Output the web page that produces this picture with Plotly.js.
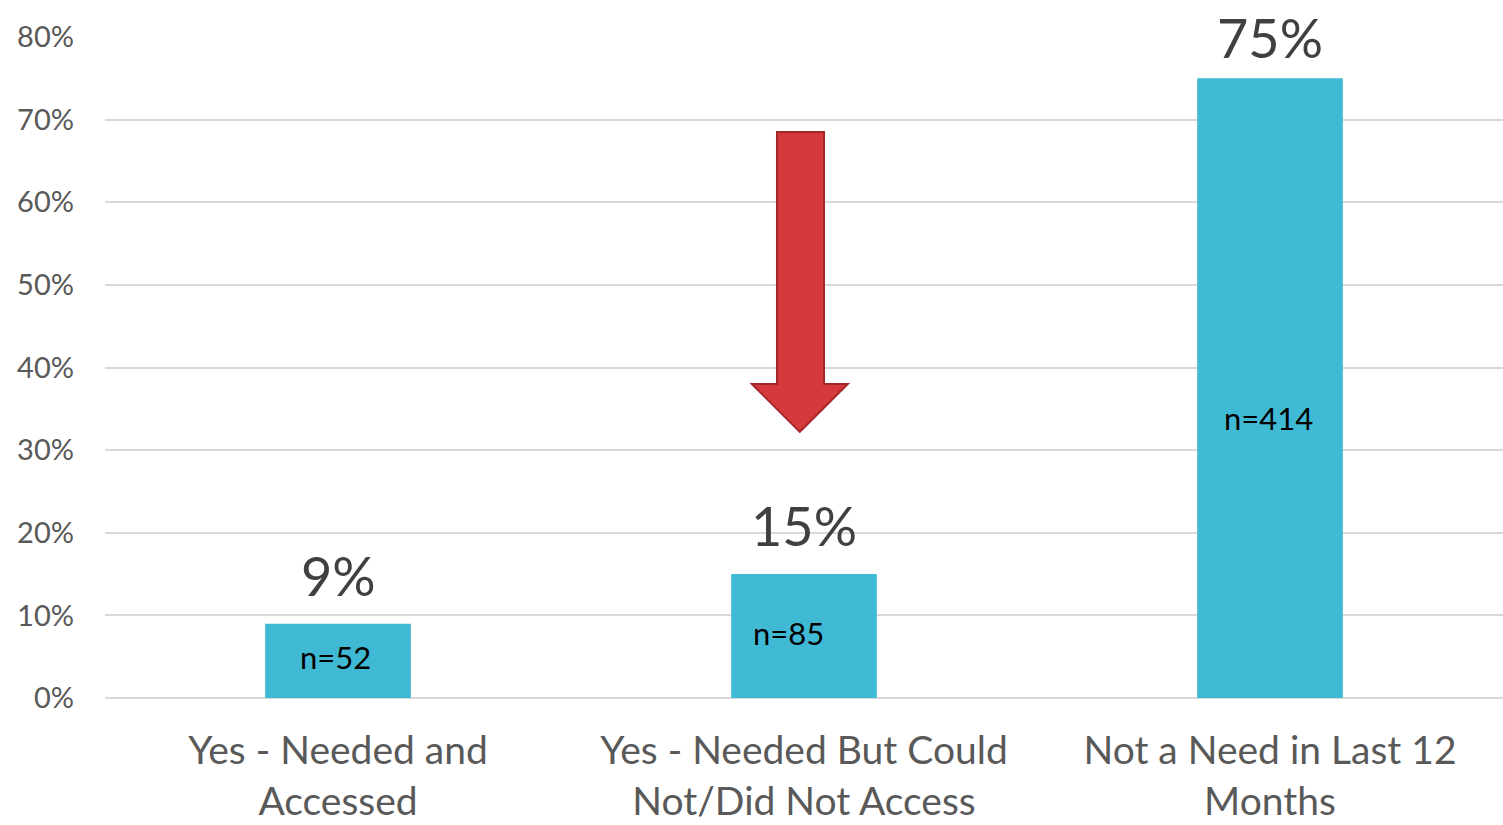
<!DOCTYPE html>
<html>
<head>
<meta charset="utf-8">
<script src="https://cdn.plot.ly/plotly-3.0.1.min.js"></script>
<style>html,body{margin:0;padding:0;background:#fff;}#chart{width:1503px;height:825px;}</style>
</head>
<body>
<div id="chart"></div>
<script>
// ---- data ----
var categories = ["Yes - Needed and<br>Accessed", "Yes - Needed But Could<br>Not/Did Not Access", "Not a Need in Last 12<br>Months"];
var percents = [9, 15, 75];
var valueLabels = ["9%", "15%", "75%"];
var nLabels = ["n=52", "n=85", "n=414"];
var yTickVals = [0, 10, 20, 30, 40, 50, 60, 70, 80];
var yTickText = ["0%", "10%", "20%", "30%", "40%", "50%", "60%", "70%", "80%"];

// ---- layout helpers (positions, not data) ----
var nLabelY = [5.0, 7.9, 33.9];
var nLabelXShift = [-3, -16, -2];
var valueLabelYShift = [14, 14, 6];

var FONT = "Lato, 'Open Sans', sans-serif";

var trace = {
  type: "bar",
  x: categories,
  y: percents,
  marker: {color: "#40b9d4"},
  width: 0.3126,
  hoverinfo: "skip"
};

var annotations = [];
for (var i = 0; i < categories.length; i++) {
  annotations.push({
    x: categories[i], y: percents[i], xref: "x", yref: "y",
    text: valueLabels[i], showarrow: false,
    xanchor: "center", yanchor: "bottom", yshift: valueLabelYShift[i],
    font: {family: FONT, size: 54, color: "#404040"}
  });
  annotations.push({
    x: categories[i], y: nLabelY[i], xref: "x", yref: "y",
    text: nLabels[i], showarrow: false,
    xanchor: "center", yanchor: "middle", xshift: nLabelXShift[i],
    font: {family: FONT, size: 31, color: "#000000"}
  });
}

// Red down arrow (annotation graphic) over the middle category.
// x in paper fraction of plot width, y in axis units
function cx(idx) { return (idx + 0.5) / categories.length; }
var arrowIdx = 1, arrowTop = 68.5, arrowHeadTop = 38.0, arrowTip = 32.2;
var arrowPath = "M " + cx(arrowIdx - 0.058) + "," + arrowTop +
  " L " + cx(arrowIdx + 0.043) + "," + arrowTop +
  " L " + cx(arrowIdx + 0.043) + "," + arrowHeadTop +
  " L " + cx(arrowIdx + 0.094) + "," + arrowHeadTop +
  " L " + cx(arrowIdx - 0.009) + "," + arrowTip +
  " L " + cx(arrowIdx - 0.112) + "," + arrowHeadTop +
  " L " + cx(arrowIdx - 0.058) + "," + arrowHeadTop + " Z";

var layout = {
  width: 1503, height: 825,
  margin: {l: 105, r: 0, t: 37, b: 127},
  paper_bgcolor: "#ffffff", plot_bgcolor: "#ffffff",
  showlegend: false,
  bargap: 0.687,
  xaxis: {
    type: "category",
    range: [-0.5, 2.5],
    showgrid: false, zeroline: false, showline: false,
    ticks: "",
    tickfont: {family: FONT, size: 39, color: "#595959"},
    ticklabelstandoff: 26
  },
  yaxis: {
    range: [0, 80],
    tickvals: yTickVals, ticktext: yTickText,
    showgrid: true, gridcolor: "#d9d9d9", gridwidth: 2,
    zeroline: true, zerolinecolor: "#d9d9d9", zerolinewidth: 2,
    showline: false, ticks: "",
    tickfont: {family: FONT, size: 29, color: "#595959"},
    ticklabelstandoff: 30
  },
  annotations: annotations,
  shapes: [{
    type: "path", xref: "paper", yref: "y",
    path: arrowPath,
    fillcolor: "#d5393e",
    line: {color: "#a3262b", width: 2},
    layer: "above"
  }]
};

Plotly.newPlot("chart", [trace], layout, {displayModeBar: false, staticPlot: true});
</script>
</body>
</html>
